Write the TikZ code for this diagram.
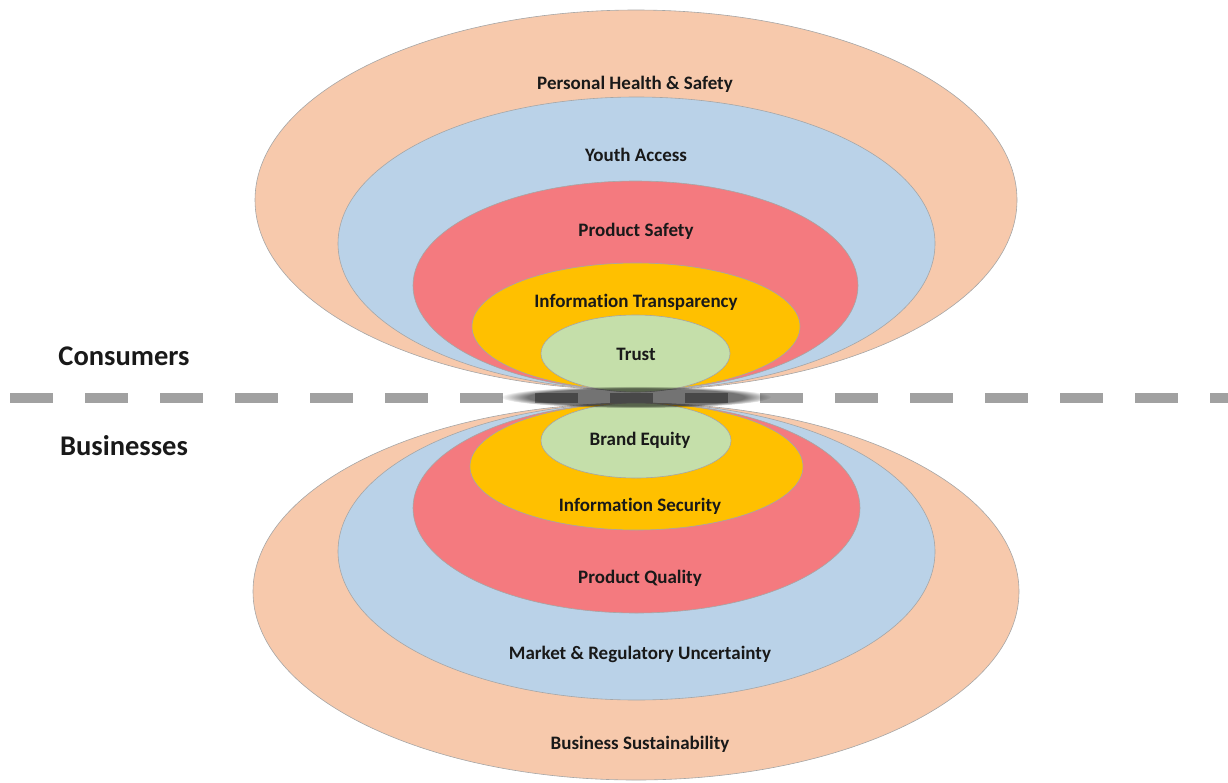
\documentclass[tikz,border=0pt]{standalone}
\usepackage{fontspec}
\setmainfont{Carlito}[Ligatures=NoCommon]
\usetikzlibrary{fadings}
\definecolor{peach}{RGB}{247,201,172}
\definecolor{paleblue}{RGB}{186,210,232}
\definecolor{salmon}{RGB}{244,122,127}
\definecolor{amber}{RGB}{255,192,0}
\definecolor{sage}{RGB}{197,223,170}
\begin{document}
\begin{tikzpicture}[x=1pt,y=-1pt]
\tikzstyle{every node}=[font=\bfseries\fontsize{19}{22}\selectfont, text=black!90];
\tikzstyle{ring}=[draw=black!35, line width=0.6pt];
\tikzstyle{side}=[font=\bfseries\fontsize{28.5}{32}\selectfont];
\useasboundingbox (0,0) rectangle (1228,782);
\draw[line width=10pt, black!37, dash pattern=on 43pt off 32pt] (10,398) -- (1228,398);
% consumers side
\draw[ring, fill=peach] (636,200) ellipse (381 and 190);
\draw[ring, fill=paleblue] (636.5,243.5) ellipse (298.5 and 146.5);
\draw[ring, fill=salmon] (635.5,285.5) ellipse (222.5 and 104.5);
\draw[ring, fill=amber] (636,326.5) ellipse (164 and 63.5);
\draw[ring, fill=sage] (635.5,353.5) ellipse (94.5 and 38.5);
% businesses side
\draw[ring, fill=peach] (636,591.5) ellipse (383 and 188.5);
\draw[ring, fill=paleblue] (636.5,551.5) ellipse (298.5 and 148.5);
\draw[ring, fill=salmon] (636.5,508) ellipse (223.5 and 105);
\draw[ring, fill=amber] (636.5,466.5) ellipse (166.5 and 63.5);
\draw[ring, fill=sage] (636,440.5) ellipse (95 and 37.5);
\fill[black, opacity=0.55, path fading=circle with fuzzy edge 20 percent] (636,397) ellipse (135 and 11);
\node (phs) at (635,84) {Personal Health \& Safety};
\node (youth) at (636,155) {Youth Access};
\node (psafe) at (636,231) {Product Safety};
\node (transp) at (636,302) {Information Transparency};
\node (trust) at (636,354) {Trust};
\node (brand) at (640,440) {Brand Equity};
\node (security) at (640,506) {Information Security};
\node (pquality) at (640,578) {Product Quality};
\node (market) at (640,654) {Market \& Regulatory Uncertainty};
\node (sustain) at (640,744) {Business Sustainability};
\node[side] (consumers) at (124,356) {Consumers};
\node[side] (businesses) at (124,446) {Businesses};
\end{tikzpicture}
\end{document}
